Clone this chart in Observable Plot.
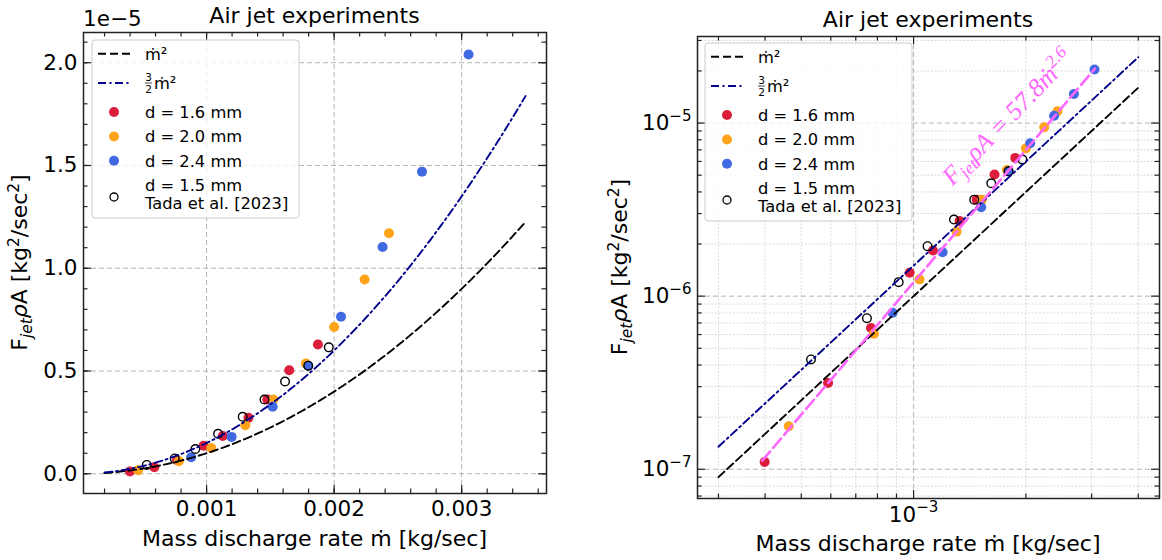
<!DOCTYPE html>
<html><head><meta charset="utf-8">
<script src="https://cdn.jsdelivr.net/npm/d3@7"></script>
<script src="https://cdn.jsdelivr.net/npm/@observablehq/plot@0.6"></script>
<style>
body{margin:0;background:#fff;}
#wrap{position:relative;width:1162px;height:560px;font-family:"DejaVu Sans",sans-serif;overflow:hidden;}
#left{position:absolute;left:0;top:0;width:580px;height:560px;}
#right{position:absolute;left:580px;top:0;width:582px;height:560px;}
svg{overflow:visible;}
</style></head><body>
<div id="wrap"><div id="left"></div><div id="right"></div></div>
<script>
// ---------------- data ----------------
const redX    = [0.000399, 0.00059, 0.000769, 0.000976, 0.001127, 0.001328, 0.001476, 0.001648, 0.001873];
const redY    = [1.10e-7, 3.15e-7, 6.54e-7, 1.365e-6, 1.835e-6, 2.72e-6, 3.61e-6, 5.04e-6, 6.29e-6];
const orangeX = [0.000463, 0.000783, 0.001037, 0.001304, 0.001524, 0.001779, 0.00200, 0.002239, 0.00243];
const orangeY = [1.77e-7, 6.07e-7, 1.25e-6, 2.36e-6, 3.61e-6, 5.36e-6, 7.14e-6, 9.45e-6, 1.17e-5];
const blueX   = [0.000879, 0.001196, 0.001518, 0.001797, 0.002054, 0.00238, 0.002689, 0.003054];
const blueY   = [8.02e-7, 1.795e-6, 3.26e-6, 5.26e-6, 7.64e-6, 1.103e-5, 1.47e-5, 2.04e-5];
const tadaX   = [0.000531, 0.00075, 0.000912, 0.00109, 0.001283, 0.001454, 0.001615, 0.001797, 0.001958];
const tadaY   = [4.31e-7, 7.46e-7, 1.205e-6, 1.944e-6, 2.77e-6, 3.61e-6, 4.49e-6, 5.26e-6, 6.15e-6];
// model curves F = k * mdot^2
const curveCoef = [1, 1.5];
const curveRangeLin = [0.0002, 0.0035];
const curveRangeLog = [0.0003, 0.004];
// power-law fit line (log panel) end points
const fitX = [0.000393, 0.00306];
const fitY = [1.12e-7, 2.06e-5];
// ticks
const xMajorL = [0.001, 0.002, 0.003];
const xLabelsL = ["0.001", "0.002", "0.003"];
const yMajorL = [0, 0.5e-5, 1.0e-5, 1.5e-5, 2.0e-5];
const yLabelsL = ["0.0", "0.5", "1.0", "1.5", "2.0"];
const xMajorR = [1e-3];
const xLabelsR = ["10^−3"];
const yMajorR = [1e-7, 1e-6, 1e-5];
const yLabelsR = ["10^−7", "10^−6", "10^−5"];
const xMinorR = [3e-4, 4e-4, 5e-4, 6e-4, 7e-4, 8e-4, 9e-4, 2e-3, 3e-3, 4e-3];
const yMinorR = [7e-8, 8e-8, 9e-8, 2e-7, 3e-7, 4e-7, 5e-7, 6e-7, 7e-7, 8e-7, 9e-7,
                 2e-6, 3e-6, 4e-6, 5e-6, 6e-6, 7e-6, 8e-6, 9e-6, 2e-5, 3e-5];
const xMinorL = d3.range(1, 19).map(i => +(i * 0.0002).toFixed(4));
const yMinorL = d3.range(0, 22).map(i => +(i * 0.1e-5).toExponential(3));
const legendLabels = ["ṁ²", "ṁ²", "d = 1.6 mm", "d = 2.0 mm", "d = 2.4 mm", "d = 1.5 mm", "Tada et al. [2023]"];
const title = "Air jet experiments";
const xTitle = "Mass discharge rate ṁ [kg/sec]";

// ---------------- styles ----------------
const RED = "#dc1e3c", ORANGE = "#ffa31a", BLUE = "#4169e1", NAVY = "#00008b", PINK = "#ff66ff";
const FONT = "DejaVu Sans";
const DASH = "8,4", DASHDOT = "8,3.5,2,3.5", LW = 1.9;

const zip = (xs, ys) => xs.map((x, i) => ({x, y: ys[i]}));
const red = zip(redX, redY), orange = zip(orangeX, orangeY), blue = zip(blueX, blueY), tada = zip(tadaX, tadaY);
function curve(range, k) {
  const n = 120;
  return d3.range(n + 1).map(i => {
    const x = range[0] + (range[1] - range[0]) * i / n;
    return {x, y: k * x * x};
  });
}
function logCurve(range, k) {
  return range.map(x => ({x, y: k * x * x}));
}

function pointMarks() {
  return [
    Plot.dot(red, {x: "x", y: "y", r: 5, fill: RED}),
    Plot.dot(orange, {x: "x", y: "y", r: 5, fill: ORANGE}),
    Plot.dot(blue, {x: "x", y: "y", r: 5, fill: BLUE}),
    Plot.dot(tada, {x: "x", y: "y", r: 4.3, fill: "none", stroke: "#000", strokeWidth: 1.4})
  ];
}
function tickMarks(xMaj, xMin, yMaj, yMin, fw, fh) {
  const M = 8, m = 4.5, sw = 1.2, c = "#222";
  return [
    Plot.tickX(xMaj, {x: d => d, insetTop: fh - M, stroke: c, strokeWidth: sw}),
    Plot.tickX(xMaj, {x: d => d, insetBottom: fh - M, stroke: c, strokeWidth: sw}),
    Plot.tickX(xMin, {x: d => d, insetTop: fh - m, stroke: c, strokeWidth: sw}),
    Plot.tickX(xMin, {x: d => d, insetBottom: fh - m, stroke: c, strokeWidth: sw}),
    Plot.tickY(yMaj, {y: d => d, insetRight: fw - M, stroke: c, strokeWidth: sw}),
    Plot.tickY(yMaj, {y: d => d, insetLeft: fw - M, stroke: c, strokeWidth: sw}),
    Plot.tickY(yMin, {y: d => d, insetRight: fw - m, stroke: c, strokeWidth: sw}),
    Plot.tickY(yMin, {y: d => d, insetLeft: fw - m, stroke: c, strokeWidth: sw})
  ];
}

// ---------------- left (linear) ----------------
const L = {w: 580, h: 560, ml: 83, mr: 34, mt: 32, mb: 67};
const Lfw = L.w - L.ml - L.mr, Lfh = L.h - L.mt - L.mb;
const left = Plot.plot({
  width: L.w, height: L.h,
  marginLeft: L.ml, marginRight: L.mr, marginTop: L.mt, marginBottom: L.mb,
  style: {fontFamily: FONT, fontSize: "21.5px", color: "#000", background: "transparent", overflow: "visible"},
  x: {type: "linear", domain: [0.000035, 0.003665]},
  y: {type: "linear", domain: [-0.096e-5, 2.147e-5]},
  marks: [
    Plot.gridX(xMajorL, {stroke: "#b4b4b4", strokeOpacity: 1, strokeWidth: 1, strokeDasharray: "5,3"}),
    Plot.gridY(yMajorL, {stroke: "#b4b4b4", strokeOpacity: 1, strokeWidth: 1, strokeDasharray: "5,3"}),
    ...pointMarks(),
    Plot.line(curve(curveRangeLin, curveCoef[0]), {x: "x", y: "y", stroke: "#000", strokeWidth: LW, strokeDasharray: DASH}),
    Plot.line(curve(curveRangeLin, curveCoef[1]), {x: "x", y: "y", stroke: NAVY, strokeWidth: LW, strokeDasharray: DASHDOT}),
    ...tickMarks(xMajorL, xMinorL, yMajorL, yMinorL, Lfw, Lfh),
    Plot.frame({stroke: "#222", strokeWidth: 1.5}),
    Plot.axisX(xMajorL, {tickSize: 0, tickPadding: 7, label: null, tickFormat: d => xLabelsL[xMajorL.indexOf(d)]}),
    Plot.axisY(yMajorL, {tickSize: 0, tickPadding: 6, label: null, tickFormat: d => yLabelsL[yMajorL.indexOf(d)]})
  ]
});
document.getElementById("left").appendChild(left);

// ---------------- right (log-log) ----------------
const R = {w: 582, h: 560, ml: 117, mr: 3, mt: 36, mb: 62};
const Rfw = R.w - R.ml - R.mr, Rfh = R.h - R.mt - R.mb;
const right = Plot.plot({
  width: R.w, height: R.h,
  marginLeft: R.ml, marginRight: R.mr, marginTop: R.mt, marginBottom: R.mb,
  style: {fontFamily: FONT, fontSize: "21.5px", color: "#000", background: "transparent", overflow: "visible"},
  x: {type: "log", domain: [Math.pow(10, -3.579), Math.pow(10, -2.341)]},
  y: {type: "log", domain: [Math.pow(10, -7.169), Math.pow(10, -4.500)]},
  marks: [
    Plot.gridX(xMinorR, {stroke: "#cfcfcf", strokeOpacity: 1, strokeWidth: 0.8, strokeDasharray: "2,1.6"}),
    Plot.gridY(yMinorR, {stroke: "#cfcfcf", strokeOpacity: 1, strokeWidth: 0.8, strokeDasharray: "2,1.6"}),
    Plot.gridX(xMajorR, {stroke: "#b4b4b4", strokeOpacity: 1, strokeWidth: 1, strokeDasharray: "5,3"}),
    Plot.gridY(yMajorR, {stroke: "#b4b4b4", strokeOpacity: 1, strokeWidth: 1, strokeDasharray: "5,3"}),
    ...pointMarks(),
    Plot.line(logCurve(curveRangeLog, curveCoef[0]), {x: "x", y: "y", stroke: "#000", strokeWidth: LW, strokeDasharray: DASH}),
    Plot.line(logCurve(curveRangeLog, curveCoef[1]), {x: "x", y: "y", stroke: NAVY, strokeWidth: LW, strokeDasharray: DASHDOT}),
    Plot.line(zip(fitX, fitY), {x: "x", y: "y", stroke: PINK, strokeWidth: 2.6, strokeDasharray: "12,5"}),
    ...tickMarks(xMajorR, xMinorR, yMajorR, yMinorR, Rfw, Rfh),
    Plot.frame({stroke: "#222", strokeWidth: 1.5}),
    Plot.axisX(xMajorR, {tickSize: 0, tickPadding: 8, label: null, tickFormat: d => xLabelsR[xMajorR.indexOf(d)]}),
    Plot.axisY(yMajorR, {tickSize: 0, tickPadding: 6, label: null, tickFormat: d => yLabelsR[yMajorR.indexOf(d)]})
  ]
});
document.getElementById("right").appendChild(right);

// superscript tick labels "10^−5"
d3.select(right).selectAll('g[aria-label$="tick label"] text').each(function() {
  const s = this.textContent;
  if (s.indexOf("^") < 0) return;
  const [base, exp] = s.split("^");
  const t = d3.select(this);
  t.text(base);
  t.append("tspan").attr("font-size", "0.7em").attr("dy", "-0.62em").text(exp);
});

// ---------------- annotations ----------------
function addText(svg, x, y, str, opts = {}) {
  const t = d3.select(svg).append("text")
    .attr("x", x).attr("y", y)
    .attr("font-family", opts.family || FONT)
    .attr("font-size", opts.size || 22)
    .attr("text-anchor", opts.anchor || "middle")
    .attr("fill", opts.fill || "#000");
  if (opts.transform) t.attr("transform", opts.transform);
  if (opts.style) t.attr("font-style", opts.style);
  if (str != null) t.text(str);
  return t;
}
function yLabel(svg, x, y) {
  const t = addText(svg, 0, 0, null, {transform: `translate(${x},${y}) rotate(-90)`});
  t.append("tspan").text("F");
  t.append("tspan").attr("font-size", 15.4).attr("dy", 5).attr("font-style", "italic").text("jet");
  t.append("tspan").attr("dy", -5).attr("font-style", "italic").text("ρ");
  t.append("tspan").text("A [kg");
  t.append("tspan").attr("font-size", 15.4).attr("dy", -8).text("2");
  t.append("tspan").attr("dy", 8).text("/sec");
  t.append("tspan").attr("font-size", 15.4).attr("dy", -8).text("2");
  t.append("tspan").attr("dy", 8).text("]");
}
function legend(svg, bx, by) {
  const g = d3.select(svg).append("g").attr("text-anchor", "start");
  const fs = 16.3;
  g.append("rect").attr("x", bx).attr("y", by).attr("width", 207).attr("height", 178).attr("rx", 3)
    .attr("fill", "#fff").attr("fill-opacity", 0.8).attr("stroke", "#cccccc").attr("stroke-width", 1);
  const lx0 = bx + 6, lx1 = bx + 39, mx = bx + 22, tx = bx + 53;
  const rows = [13.7, 43, 72, 96.5, 120.7, 144.7, 163, 157].map(v => by + v);
  const txt = (y, s) => g.append("text").attr("x", tx).attr("y", y + 5.8).attr("text-anchor", "start")
    .attr("font-family", FONT).attr("font-size", fs).attr("fill", "#000").text(s);
  g.append("line").attr("x1", lx0).attr("x2", lx1).attr("y1", rows[0]).attr("y2", rows[0])
    .attr("stroke", "#000").attr("stroke-width", LW).attr("stroke-dasharray", DASH);
  txt(rows[0], legendLabels[0]);
  g.append("line").attr("x1", lx0).attr("x2", lx1).attr("y1", rows[1]).attr("y2", rows[1])
    .attr("stroke", NAVY).attr("stroke-width", LW).attr("stroke-dasharray", DASHDOT);
  g.append("text").attr("x", tx + 3.5).attr("y", rows[1] - 2).attr("text-anchor", "middle").attr("font-family", FONT).attr("font-size", 10.5).text("3");
  g.append("line").attr("x1", tx).attr("x2", tx + 7).attr("y1", rows[1]).attr("y2", rows[1]).attr("stroke", "#000").attr("stroke-width", 0.7);
  g.append("text").attr("x", tx + 3.5).attr("y", rows[1] + 9.5).attr("text-anchor", "middle").attr("font-family", FONT).attr("font-size", 10.5).text("2");
  g.append("text").attr("x", tx + 9).attr("y", rows[1] + 5.8).attr("text-anchor", "start").attr("font-family", FONT).attr("font-size", fs).text(legendLabels[1]);
  [[RED, rows[2], legendLabels[2]], [ORANGE, rows[3], legendLabels[3]], [BLUE, rows[4], legendLabels[4]]].forEach(([c, y, s]) => {
    g.append("circle").attr("cx", mx).attr("cy", y).attr("r", 5).attr("fill", c);
    txt(y, s);
  });
  g.append("circle").attr("cx", mx).attr("cy", rows[7]).attr("r", 4).attr("fill", "none").attr("stroke", "#000").attr("stroke-width", 1.3);
  txt(rows[5], legendLabels[5]);
  txt(rows[6], legendLabels[6]);
}

// left annotations
addText(left, (L.ml + L.w - L.mr) / 2, 23.3, title);
addText(left, (L.ml + L.w - L.mr) / 2, 545.7, xTitle);
addText(left, L.ml, 26, "1e−5", {anchor: "start", size: 21.5});
yLabel(left, 27, L.mt + Lfh / 2);
legend(left, 92, 40);

// right annotations
addText(right, (R.ml + R.w - R.mr) / 2, 27.3, title);
addText(right, (R.ml + R.w - R.mr) / 2, 550.7, xTitle);
yLabel(right, 47, R.mt + Rfh / 2);
legend(right, 125, 43);
// fit-law annotation placed along the fit line
const annX = 1.861e-3, annY = 9.92e-6;
const ax = right.scale("x").apply(annX), ay = right.scale("y").apply(annY);
const ann = addText(right, 0, 0, null, {family: "Liberation Serif", size: 25.5, fill: PINK, style: "italic",
  transform: `translate(${ax},${ay}) rotate(-46)`});
ann.append("tspan").text("F");
ann.append("tspan").attr("font-size", 18).attr("dy", 5).text("jet");
ann.append("tspan").attr("dy", -5).text("ρA = 57.8ṁ");
ann.append("tspan").attr("font-size", 18).attr("dy", -10).text("2.6");
</script>
</body></html>
